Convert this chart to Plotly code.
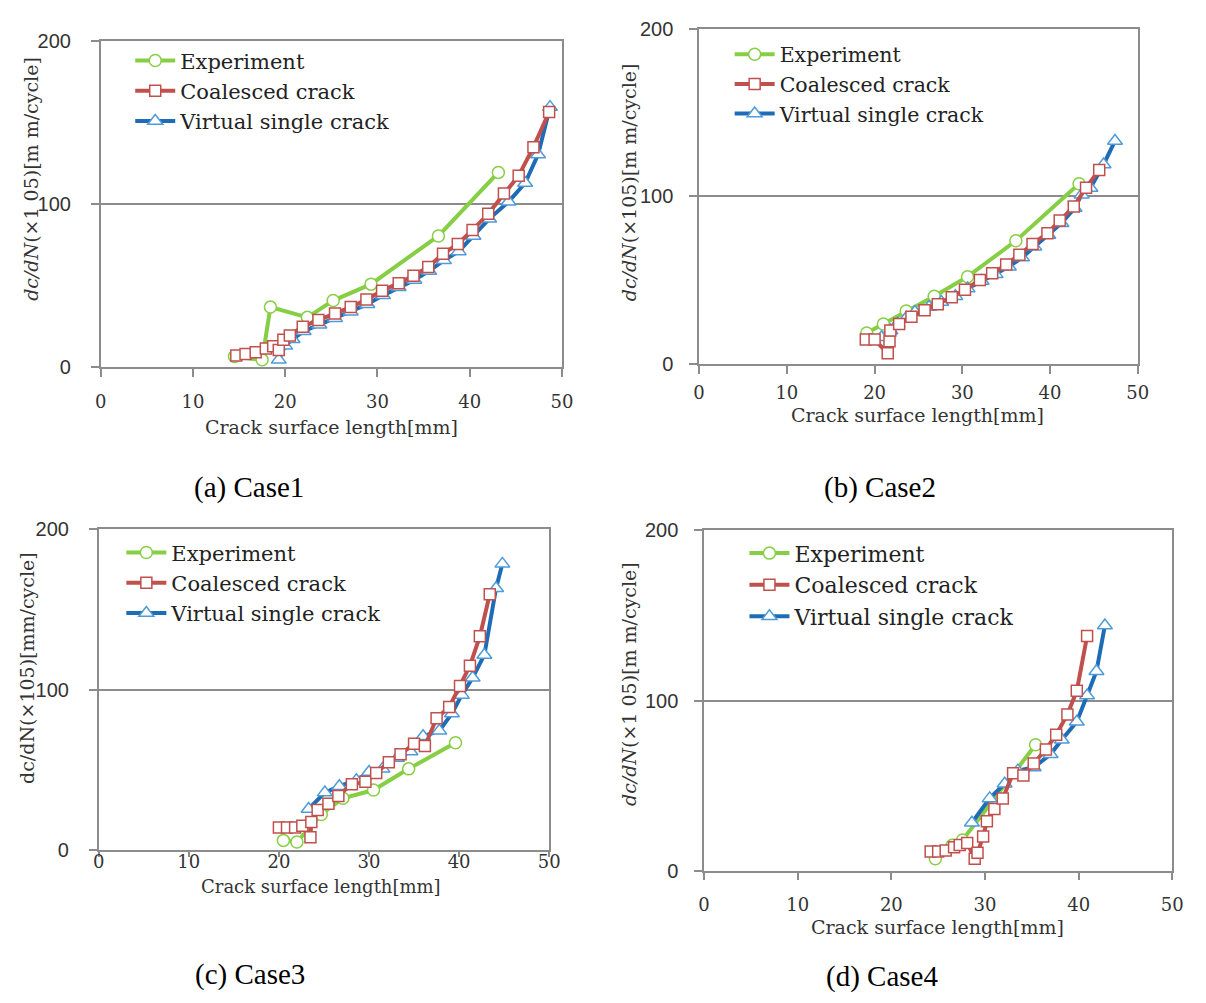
import plotly.graph_objects as go

W, H = 1206, 1003

# ---------------- data ----------------
case1_exp_x = [14.5, 17.5, 18.4, 22.4, 25.2, 29.3, 36.6, 43.1]
case1_exp_y = [6.4, 4.4, 36.8, 30.5, 40.8, 50.9, 80.5, 119.5]
case1_coal_x = [14.7, 15.7, 16.8, 17.9, 18.7, 19.3, 19.8, 20.5, 21.9, 23.6, 25.4, 27.1, 28.8, 30.5,
                32.3, 33.9, 35.5, 37.1, 38.7, 40.3, 42.0, 43.7, 45.3, 46.9, 48.6]
case1_coal_y = [7.0, 8.0, 9.0, 11.4, 12.8, 10.4, 16.8, 19.4, 24.8, 28.8, 32.9, 36.8, 41.4, 46.8,
                51.5, 56.0, 61.4, 69.5, 75.5, 84.1, 94.1, 106.5, 117.5, 135.0, 156.6]
case1_virt_x = [19.3, 20.0, 20.8, 22.0, 23.7, 25.4, 27.1, 28.9, 30.6, 32.3, 34.0, 35.6, 37.2, 38.8,
                40.4, 42.1, 44.2, 46.0, 47.4, 48.7]
case1_virt_y = [4.4, 13.0, 17.0, 22.0, 26.0, 30.0, 34.0, 38.5, 44.0, 49.0, 53.5, 59.0, 65.5, 71.0,
                80.5, 91.0, 101.5, 113.0, 130.5, 159.6]

case2_exp_x = [19.1, 21.0, 23.6, 26.8, 30.6, 36.1, 43.3]
case2_exp_y = [18.5, 23.9, 31.7, 40.4, 52.1, 73.5, 107.5]
case2_coal_x = [19.0, 20.0, 21.5, 21.7, 21.8, 22.8, 24.2, 25.7, 27.2, 28.8, 30.3, 32.0, 33.4, 35.0,
                36.5, 38.0, 39.7, 41.1, 42.7, 44.1, 45.6]
case2_coal_y = [14.6, 14.6, 6.4, 13.6, 20.0, 23.9, 28.2, 32.1, 35.6, 39.8, 44.3, 50.2, 54.1, 59.3,
                65.2, 71.6, 78.0, 85.6, 93.9, 105.2, 115.7]
case2_virt_x = [20.8, 21.8, 22.6, 23.6, 24.6, 26.2, 27.6, 29.2, 30.6, 32.2, 33.8, 35.3, 36.8, 38.2,
                39.8, 41.3, 42.8, 43.6, 44.6, 46.1, 47.4]
case2_virt_y = [16.0, 20.0, 24.0, 27.5, 31.0, 34.0, 37.0, 40.5, 45.0, 49.5, 53.5, 58.0, 63.5, 70.0,
                77.0, 84.0, 93.0, 101.0, 105.0, 119.0, 133.0]

case3_exp_x = [20.5, 22.0, 24.7, 27.1, 30.5, 34.4, 39.6]
case3_exp_y = [6.1, 5.1, 22.3, 32.4, 37.5, 50.7, 67.0]
case3_coal_x = [20.0, 20.9, 21.8, 22.6, 23.5, 23.6, 24.3, 25.5, 26.6, 28.1, 29.6, 30.8, 32.2, 33.5,
                35.0, 36.2, 37.5, 38.9, 40.1, 41.2, 42.3, 43.4]
case3_coal_y = [14.2, 14.2, 14.2, 15.2, 8.1, 17.6, 25.0, 29.0, 33.8, 41.1, 42.6, 48.1, 54.8, 59.8,
                66.3, 64.9, 82.2, 89.2, 102.4, 115.0, 133.3, 159.6]
case3_virt_x = [23.3, 25.1, 26.7, 28.6, 30.0, 31.5, 33.1, 34.6, 36.0, 37.8, 39.2, 40.3, 41.5, 42.8,
                44.1, 44.8]
case3_virt_y = [25.7, 35.9, 39.9, 43.6, 48.7, 50.7, 57.4, 61.5, 71.0, 74.4, 85.2, 96.8, 107.5, 121.7,
                163.3, 178.5]

case4_exp_x = [24.7, 26.5, 27.6, 35.4]
case4_exp_y = [7.0, 15.0, 18.0, 74.0]
case4_coal_x = [24.2, 25.0, 25.8, 26.7, 27.3, 28.1, 28.9, 29.2, 29.8, 30.2, 31.0, 31.9, 33.0, 34.1,
                35.2, 36.5, 37.6, 38.8, 39.8, 40.9]
case4_coal_y = [11.3, 11.3, 11.9, 13.8, 15.1, 16.3, 7.1, 10.5, 20.1, 29.1, 36.2, 42.5, 57.3, 55.9,
                63.0, 71.3, 79.9, 91.8, 105.7, 137.9]
case4_virt_x = [28.6, 30.5, 32.1, 33.5, 35.2, 37.0, 38.2, 39.8, 40.9, 41.9, 42.8]
case4_virt_y = [28.2, 42.5, 51.1, 58.8, 60.7, 68.4, 77.0, 87.5, 102.9, 117.2, 144.1]

series_names = ["Experiment", "Coalesced crack", "Virtual single crack"]
x_ticks = [0, 10, 20, 30, 40, 50]
y_ticks = [0, 100, 200]
captions = ["(a) Case1", "(b) Case2", "(c) Case3", "(d) Case4"]
y_titles = ["<i>dc/dN</i>(×1 05)[m m/cycle]", "<i>dc/dN</i>(×105)[m m/cycle]",
            "dc/dN(×105)[mm/cycle]", "<i>dc/dN</i>(×1 05)[m m/cycle]"]
x_title = "Crack surface length[mm]"

cases = [
    (case1_exp_x, case1_exp_y, case1_coal_x, case1_coal_y, case1_virt_x, case1_virt_y),
    (case2_exp_x, case2_exp_y, case2_coal_x, case2_coal_y, case2_virt_x, case2_virt_y),
    (case3_exp_x, case3_exp_y, case3_coal_x, case3_coal_y, case3_virt_x, case3_virt_y),
    (case4_exp_x, case4_exp_y, case4_coal_x, case4_coal_y, case4_virt_x, case4_virt_y),
]

# ---------------- layout geometry (pixels) ----------------
# plot box: left, right, bottom, top
boxes = [(96, 564, 364, 31), (703, 1148, 361, 18), (94, 551, 858, 530), (708, 1183, 879, 531)]
xtick_len = [8, 8, 5, 8]
xlab_standoff = [10, 4, -11, 9]
ylab_standoff = [16, 12, 16, 12]
xtitle_pos = [(330, 425), (925, 413), (320, 895), (945, 937)]
xtitle_size = [19, 19, 18, 19]
ytitle_pos = [(26, 172), (632, 175), (22, 672), (632, 688)]
caption_pos = [(246, 487), (886, 487), (247, 985), (889, 987)]
legend_pos = [(126, 30), (734, 24), (117, 533), (749, 533)]
legend_font = [21, 20.5, 21, 22]

GREEN = "#86CF45"
RED = "#C0504D"
BLUE = "#1E6CB5"
TRI = "#4F9BD9"
AX = "#8C8C8C"


def px(x):
    return x / W


def py(y):
    return 1 - y / H


fig = go.Figure()
annotations = []
layout = dict(width=W, height=H, margin=dict(l=0, r=0, t=0, b=0),
              paper_bgcolor="white", plot_bgcolor="white", showlegend=True)

for i, (ex, ey, cx, cy, vx, vy) in enumerate(cases):
    n = "" if i == 0 else str(i + 1)
    xa, ya = "x" + n, "y" + n
    lg = "legend" + n
    fig.add_trace(go.Scatter(x=ex, y=ey, name=series_names[0], mode="lines+markers",
                             xaxis=xa, yaxis=ya, legend=lg, legendrank=1,
                             line=dict(color=GREEN, width=4),
                             marker=dict(symbol="circle", size=12, color="white",
                                         line=dict(color=GREEN, width=1.5))))
    fig.add_trace(go.Scatter(x=vx, y=vy, name=series_names[2], mode="lines+markers",
                             xaxis=xa, yaxis=ya, legend=lg, legendrank=3,
                             line=dict(color=BLUE, width=4),
                             marker=dict(symbol="triangle-up", size=13, color="white",
                                         line=dict(color=TRI, width=1.5))))
    fig.add_trace(go.Scatter(x=cx, y=cy, name=series_names[1], mode="lines+markers",
                             xaxis=xa, yaxis=ya, legend=lg, legendrank=2,
                             line=dict(color=RED, width=4),
                             marker=dict(symbol="square", size=11, color="white",
                                         line=dict(color=RED, width=1.5))))

    l, r, b, t = boxes[i]
    layout["xaxis" + n] = dict(domain=[px(l), px(r)], range=[0, 50], anchor=ya,
                               tickvals=x_ticks, ticktext=[str(v) for v in x_ticks],
                               ticks="outside", ticklen=xtick_len[i], tickcolor=AX, tickwidth=1.5,
                               showline=True, linecolor=AX, linewidth=1.5, mirror=True,
                               showgrid=False, zeroline=False, fixedrange=True,
                               ticklabelstandoff=xlab_standoff[i],
                               tickfont=dict(family="DejaVu Serif", size=18, color="#333"))
    layout["yaxis" + n] = dict(domain=[py(b), py(t)], range=[0, 200], anchor=xa,
                               tickvals=y_ticks, ticks="outside", ticklen=8, tickcolor=AX,
                               tickwidth=1.5, showline=True, linecolor=AX, linewidth=1.5,
                               mirror=True, showgrid=True, gridcolor=AX, gridwidth=1.5,
                               zeroline=False, fixedrange=True,
                               ticklabelstandoff=ylab_standoff[i],
                               tickfont=dict(family="Liberation Sans", size=20, color="#333"))
    lx, ly = legend_pos[i]
    layout[lg] = dict(x=px(lx), y=py(ly), xanchor="left", yanchor="top",
                      bgcolor="rgba(0,0,0,0)", traceorder="normal",
                      font=dict(family="DejaVu Serif", size=legend_font[i], color="#222"),
                      itemwidth=40, tracegroupgap=0)

    tx, ty = xtitle_pos[i]
    annotations.append(dict(x=px(tx), y=py(ty), xref="paper", yref="paper", text=x_title,
                            showarrow=False, xanchor="center", yanchor="middle",
                            font=dict(family="DejaVu Serif", size=xtitle_size[i], color="#333")))
    yx, yy = ytitle_pos[i]
    annotations.append(dict(x=px(yx), y=py(yy), xref="paper", yref="paper", text=y_titles[i],
                            showarrow=False, xanchor="center", yanchor="middle", textangle=-90,
                            font=dict(family="DejaVu Serif", size=19, color="#333")))
    cxp, cyp = caption_pos[i]
    annotations.append(dict(x=px(cxp), y=py(cyp), xref="paper", yref="paper", text=captions[i],
                            showarrow=False, xanchor="center", yanchor="middle",
                            font=dict(family="Liberation Serif", size=29, color="black")))

layout["annotations"] = annotations
fig.update_layout(**layout)
fig.write_html("out.html", config={"displayModeBar": False},
               post_script="document.body.style.margin='0';document.body.style.overflow='hidden';")
